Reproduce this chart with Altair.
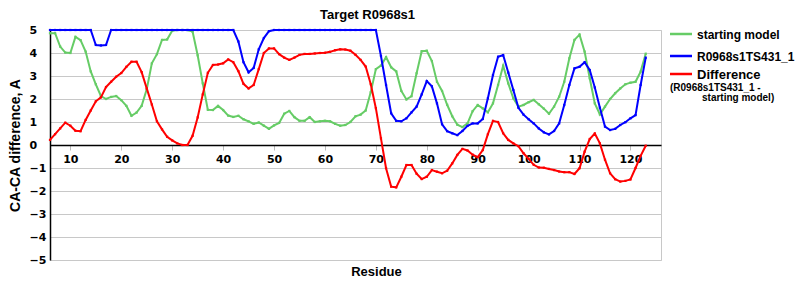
import altair as alt
import pandas as pd

# ---------------- data ----------------
residues = list(range(6, 124))

starting_model = [
    4.86, 4.86, 4.28, 4.02, 4.0, 4.7, 4.56, 4.06, 3.2, 2.64,
    2.13, 2.0, 2.09, 2.13, 1.95, 1.7, 1.27, 1.41, 1.7, 2.42,
    3.55, 3.95, 4.57, 4.59, 4.97, 5.0, 5.0, 5.0, 4.93, 3.9,
    2.68, 1.53, 1.52, 1.7, 1.52, 1.28, 1.22, 1.27, 1.12, 1.03,
    0.92, 0.98, 0.84, 0.7, 0.85, 0.96, 1.36, 1.48, 1.21, 1.05,
    1.05, 1.21, 1.0, 1.03, 1.05, 1.03, 0.92, 0.84, 0.87, 1.0,
    1.25, 1.32, 1.5, 2.3, 3.3, 3.45, 3.82, 3.38, 3.2, 2.35,
    1.98, 2.12, 3.12, 4.08, 4.1, 3.65, 2.75, 2.35, 1.75, 1.25,
    0.88, 0.78, 0.94, 1.47, 1.74, 1.59, 1.42, 1.81, 2.61, 3.45,
    2.68, 2.03, 1.67, 1.74, 1.86, 1.96, 1.77, 1.58, 1.36, 1.67,
    2.1, 2.75, 3.77, 4.57, 4.8, 4.06, 2.9, 1.81, 1.33, 1.67,
    2.0, 2.25, 2.46, 2.64, 2.71, 2.75, 3.19, 3.97,
]

ts431 = [
    5.0, 5.0, 5.0, 5.0, 5.0, 5.0, 5.0, 5.0, 5.0, 4.35,
    4.33, 4.35, 5.0, 5.0, 5.0, 5.0, 5.0, 5.0, 5.0, 5.0,
    5.0, 5.0, 5.0, 5.0, 5.0, 5.0, 5.0, 5.0, 5.0, 5.0,
    5.0, 5.0, 5.0, 5.0, 5.0, 5.0, 5.0, 4.5, 3.6, 3.16,
    3.35, 4.16, 4.65, 4.95, 5.0, 5.0, 5.0, 5.0, 5.0, 5.0,
    5.0, 5.0, 5.0, 5.0, 5.0, 5.0, 5.0, 5.0, 5.0, 5.0,
    5.0, 5.0, 5.0, 5.0, 5.0, 3.87, 2.61, 1.38, 1.05, 1.03,
    1.16, 1.42, 1.67, 2.2, 2.78, 2.55, 1.81, 0.9, 0.6, 0.51,
    0.43, 0.61, 0.83, 0.94, 0.94, 1.13, 2.03, 3.04, 3.84, 3.91,
    3.15, 2.39, 1.62, 1.32, 1.12, 0.94, 0.72, 0.55, 0.46, 0.61,
    0.94, 1.74, 2.61, 3.33, 3.4, 3.6, 3.26, 2.5, 1.62, 0.8,
    0.65, 0.7, 0.87, 0.99, 1.16, 1.3, 2.61, 3.8,
]

difference = [
    0.22, 0.47, 0.72, 0.97, 0.84, 0.62, 0.6, 1.09, 1.5, 1.9,
    2.07, 2.52, 2.75, 2.97, 3.13, 3.4, 3.62, 3.62, 3.17, 2.46,
    1.76, 1.03, 0.68, 0.36, 0.2, 0.07, 0.0, 0.0, 0.4, 1.2,
    2.2, 3.14, 3.48, 3.5, 3.55, 3.72, 3.6, 3.21, 2.66, 2.46,
    2.61, 3.3, 4.0, 4.2, 4.2, 3.95, 3.8, 3.7, 3.8, 3.92,
    3.96, 3.96, 3.98, 4.0, 4.01, 4.05, 4.12, 4.16, 4.15, 4.1,
    3.92, 3.7, 3.41, 2.64, 1.6, 0.29, -1.01, -1.81, -1.84, -1.38,
    -0.87, -0.87, -1.25, -1.48, -1.38, -1.09, -1.16, -1.23, -1.12, -0.8,
    -0.43, -0.17, -0.24, -0.42, -0.53, -0.22, 0.47, 1.05, 1.0, 0.51,
    0.22, 0.07, -0.05, -0.36, -0.6, -0.86, -0.98, -0.99, -1.04, -1.09,
    -1.15, -1.18, -1.18, -1.26, -1.01, -0.29, 0.26, 0.5, 0.07, -0.64,
    -1.23, -1.49, -1.59, -1.56, -1.5, -1.0, -0.47, -0.03,
]

series_names = ["starting model", "R0968s1TS431_1", "Difference"]
series_values = [starting_model, ts431, difference]
series_colors = ["#66CC66", "#0000FF", "#FF0000"]
legend_sub = ["(R0968s1TS431_1 -", "starting model)"]

x_ticks = [10, 20, 30, 40, 50, 60, 70, 80, 90, 100, 110, 120]
y_ticks = [-5, -4, -3, -2, -1, 0, 1, 2, 3, 4, 5]

rows = []
for name, vals in zip(series_names, series_values):
    for r, v in zip(residues, vals):
        rows.append({"Residue": r, "value": v, "series": name})
df = pd.DataFrame(rows)

W, H = 611, 230
TITLE_FONT = "Liberation Sans"
TICK_FONT = "DejaVu Sans"

x_enc = alt.X(
    "Residue:Q",
    scale=alt.Scale(domain=[6, 126], nice=False, zero=False),
    axis=alt.Axis(
        values=x_ticks, grid=False, offset=-115,
        domainColor="black", domainWidth=1.5,
        tickColor="#bbbbbb", tickSize=5,
        labelFont=TICK_FONT, labelFontSize=11, labelFontWeight="bold",
        labelColor="black", labelPadding=3,
        title="Residue", titleFont=TITLE_FONT, titleFontSize=13,
        titleFontWeight="bold", titleColor="black",
        titleX=326, titleY=130, titleAlign="center", titleBaseline="alphabetic",
    ),
)
y_enc = alt.Y(
    "value:Q",
    scale=alt.Scale(domain=[-5, 5], nice=False),
    axis=alt.Axis(
        values=y_ticks, grid=True, gridColor="#c8c8c8",
        ticks=False, tickSize=0,
        domainColor="black", domainWidth=1.5,
        labelFont=TICK_FONT, labelFontSize=11, labelFontWeight="bold",
        labelColor="black", labelAlign="left", labelPadding=21,
        labelBaseline="middle",
        title="CA-CA difference, A", titleFont=TITLE_FONT, titleFontSize=14,
        titleFontWeight="bold", titleColor="black",
        titleX=-35, titleY=115, titleAngle=270,
        titleAlign="center", titleBaseline="middle",
    ),
)

layers = []
for name, color in zip(series_names, series_colors):
    layers.append(
        alt.Chart(df)
        .transform_filter(alt.datum.series == name)
        .mark_line(
            color=color, strokeWidth=2,
            point=alt.OverlayMarkDef(shape="square", size=5, color=color, filled=True),
        )
        .encode(x=x_enc, y=y_enc)
    )

# legend (drawn to the right of the plot area)
legend_y = [4, 26, 44]
legend_sizes = [12, 12, 13]
for name, color, ly, fs in zip(series_names, series_colors, legend_y, legend_sizes):
    ld = pd.DataFrame({"label": [name]})
    layers.append(
        alt.Chart(ld).mark_rule(color=color, strokeWidth=2.5).encode(
            x=alt.value(620), x2=alt.value(642), y=alt.value(ly)
        )
    )
    layers.append(
        alt.Chart(ld).mark_text(
            align="left", baseline="middle", font=TITLE_FONT, fontSize=fs,
            fontWeight="bold", color="black",
        ).encode(text="label:N", x=alt.value(647), y=alt.value(ly + 0.5))
    )

sub_x = [620, 652]
sub_y = [57.5, 68]
for txt, sx, sy in zip(legend_sub, sub_x, sub_y):
    sd = pd.DataFrame({"label": [txt]})
    layers.append(
        alt.Chart(sd).mark_text(
            align="left", baseline="middle", font=TITLE_FONT, fontSize=10,
            fontWeight="bold", color="black",
        ).encode(text="label:N", x=alt.value(sx), y=alt.value(sy))
    )

chart = (
    alt.layer(*layers)
    .properties(
        width=W, height=H,
        autosize=alt.AutoSizeParams(type="none"),
        padding={"left": 50, "top": 30, "right": 139, "bottom": 40},
        title=alt.TitleParams(
            "Target R0968s1", font=TITLE_FONT, fontSize=13, fontWeight="bold",
            color="black", anchor="middle", frame="group", dx=12, offset=2,
        ),
        background="white",
    )
    .configure_view(stroke="#c8c8c8", strokeWidth=1)
)

chart.save("out.html", embed_options={"renderer": "svg", "actions": False})
